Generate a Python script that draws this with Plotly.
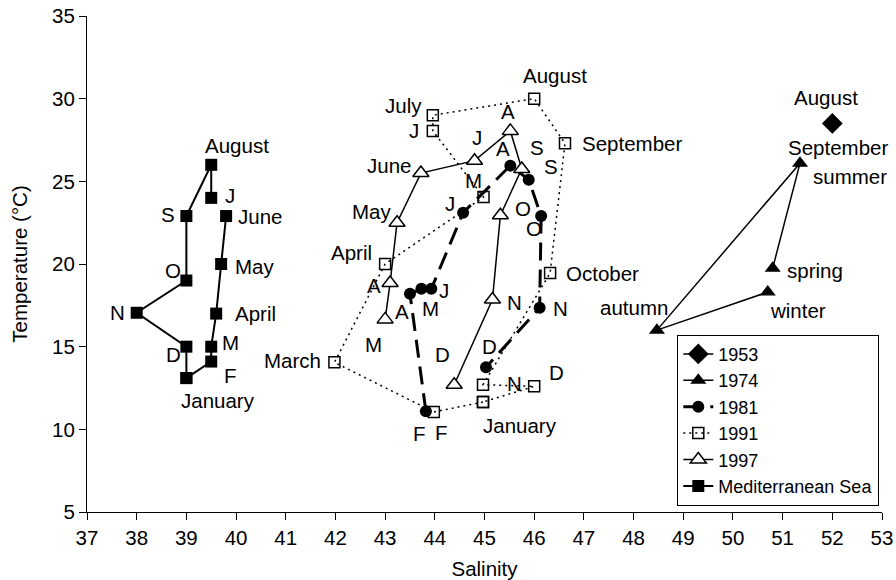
import plotly.graph_objects as go

# ---- Data: salinity / temperature per survey ----
# 1953 (single station)
s1953_sal = [52.0]
s1953_temp = [28.5]
s1953_lbl = ["August"]

# 1974 (seasonal means), drawn spring -> summer -> autumn -> winter
s1974_sal = [50.8, 51.35, 48.47, 50.7]
s1974_temp = [19.75, 26.1, 16.0, 18.3]
s1974_lbl = ["spring", "summer", "autumn", "winter"]
s1974_month = ["", "September", "", ""]

# 1981, February to December
s1981_sal = [43.82, 43.5, 43.73, 43.93, 44.57, 45.52, 45.89, 46.14, 46.11, 45.03]
s1981_temp = [11.1, 18.2, 18.5, 18.5, 23.1, 25.95, 25.1, 22.9, 17.35, 13.75]
s1981_lbl = ["F", "A", "M", "J", "J", "A", "S", "O", "N", "D"]

# 1991, January to December (closed loop)
s1991_sal = [44.97, 43.98, 41.98, 43.0, 44.98, 43.96, 43.96, 46.0, 46.62, 46.32, 44.97, 46.0]
s1991_temp = [11.65, 11.05, 14.05, 20.0, 24.05, 28.05, 29.0, 30.0, 27.3, 19.45, 12.7, 12.6]
s1991_lbl = ["January", "F", "March", "April", "M", "J", "July", "August",
             "September", "October", "N", "D"]

# 1997, March to December
s1997_sal = [43.0, 43.1, 43.24, 43.72, 44.8, 45.52, 45.75, 45.32, 45.16, 44.39]
s1997_temp = [16.65, 18.85, 22.5, 25.5, 26.25, 28.05, 25.75, 22.95, 17.85, 12.7]
s1997_lbl = ["M", "A", "May", "June", "J", "A", "S", "O", "N", "D"]

# Mediterranean Sea, January to December
med_sal = [39.0, 39.5, 39.5, 39.6, 39.7, 39.8, 39.5, 39.5, 39.0, 39.0, 38.0, 39.0]
med_temp = [13.1, 14.1, 15.0, 17.0, 20.0, 22.9, 24.0, 26.0, 22.9, 19.0, 17.05, 15.0]
med_lbl = ["January", "F", "M", "April", "May", "June", "J", "August", "S", "O", "N", "D"]

x_ticks = list(range(37, 54))
y_ticks = list(range(5, 40, 5))

# ---- Label placement (pixel offsets from each mark: dx right, dy down) ----
off_1953 = [(-6, -26)]
off_1974 = [(42, 2), (50, 13), (-23, -23), (30, 18)]
off_1974_month = [None, (38, -16), None, None]
off_1981 = [(-6, 22), (-8, 18), (9, 20), (13, 2), (-13, -9), (-7, -17),
            (22, -13), (-7, 12), (21, 1), (4, -21)]
off_1991 = [(37, 23), (8, 21), (-42, -2), (-34, -12), (-10, -17), (-19, 0),
            (-29, -10), (21, -23), (15, 0, "left"), (14, 0, "left"), (31, -1), (22, -14)]
off_1997 = [(-12, 25), (-16, 2), (-26, -11), (-32, -8), (2, -23), (-2, -19),
            (15, -21), (23, -7), (22, 3), (-12, -30)]
off_med = [(32, 22), (19, 14), (19, -4), (39, 0), (33, 2), (34, 0), (19, -2),
           (26, -19), (-18, -2), (-13, -10), (-19, 0), (-13, 8)]

FONT = "Liberation Sans, Arial, Helvetica, sans-serif"
FS = 20.5

fig = go.Figure()

fig.add_trace(go.Scatter(
    x=s1953_sal, y=s1953_temp, name="1953", mode="lines+markers",
    line=dict(color="black", width=1.5),
    marker=dict(symbol="diamond", size=16, color="black"),
))

fig.add_trace(go.Scatter(
    x=s1974_sal, y=s1974_temp, name="1974", mode="lines+markers",
    line=dict(color="black", width=1.5),
    marker=dict(symbol="triangle-up", size=14, color="black"),
))

fig.add_trace(go.Scatter(
    x=s1981_sal, y=s1981_temp, name="1981", mode="lines+markers",
    line=dict(color="black", width=3, dash="18px,9px"),
    marker=dict(symbol="circle", size=12, color="black"),
))

fig.add_trace(go.Scatter(
    x=s1991_sal + s1991_sal[:1], y=s1991_temp + s1991_temp[:1],
    name="1991", mode="lines+markers",
    line=dict(color="black", width=1.5, dash="2px,4px"),
    marker=dict(symbol="square-open", size=11, color="black",
                line=dict(color="black", width=1.5)),
))

fig.add_trace(go.Scatter(
    x=s1997_sal, y=s1997_temp, name="1997", mode="lines+markers",
    line=dict(color="black", width=1.5),
    marker=dict(symbol="triangle-up", size=14, color="white",
                line=dict(color="black", width=1.5)),
))

# June -> July segment is not connected for the Mediterranean record
med_x = med_sal[:6] + [None] + med_sal[6:] + med_sal[:1]
med_y = med_temp[:6] + [None] + med_temp[6:] + med_temp[:1]
fig.add_trace(go.Scatter(
    x=med_x, y=med_y, name="Mediterranean Sea", mode="lines+markers",
    connectgaps=False,
    line=dict(color="black", width=2),
    marker=dict(symbol="square", size=12, color="black"),
))


def add_labels(xs, ys, texts, offsets):
    for x, y, t, off in zip(xs, ys, texts, offsets):
        if not t or off is None:
            continue
        anchor = off[2] if len(off) > 2 else "center"
        fig.add_annotation(
            x=x, y=y, text=t, showarrow=False,
            xshift=off[0], yshift=-off[1],
            xanchor=anchor, yanchor="middle",
            font=dict(family=FONT, size=FS, color="black"),
        )


add_labels(s1953_sal, s1953_temp, s1953_lbl, off_1953)
add_labels(s1974_sal, s1974_temp, s1974_lbl, off_1974)
add_labels(s1974_sal, s1974_temp, s1974_month, off_1974_month)
add_labels(s1981_sal, s1981_temp, s1981_lbl, off_1981)
add_labels(s1991_sal, s1991_temp, s1991_lbl, off_1991)
add_labels(s1997_sal, s1997_temp, s1997_lbl, off_1997)
add_labels(med_sal, med_temp, med_lbl, off_med)

axis_common = dict(
    showgrid=False, zeroline=False, showline=True, linecolor="black", linewidth=1,
    ticks="outside", ticklen=7, tickwidth=1, tickcolor="black",
    tickfont=dict(family=FONT, size=FS, color="black"),
    automargin=False,
)

fig.update_layout(
    width=896, height=580,
    margin=dict(l=87, r=14, t=16, b=68),
    paper_bgcolor="white", plot_bgcolor="white",
    font=dict(family=FONT, size=FS, color="black"),
    xaxis=dict(range=[37, 53], tickvals=x_ticks,
               title=dict(text="Salinity", font=dict(family=FONT, size=FS), standoff=14),
               **axis_common),
    yaxis=dict(range=[5, 35], tickvals=y_ticks,
               title=dict(text="Temperature (°C)", font=dict(family=FONT, size=FS), standoff=18),
               **axis_common),
    legend=dict(
        x=0.9966, y=0.0127, xanchor="right", yanchor="bottom",
        bgcolor="white", bordercolor="black", borderwidth=1,
        font=dict(family=FONT, size=18, color="black"),
        tracegroupgap=0, itemwidth=30,
    ),
    showlegend=True,
)

fig.write_html("out.html")
